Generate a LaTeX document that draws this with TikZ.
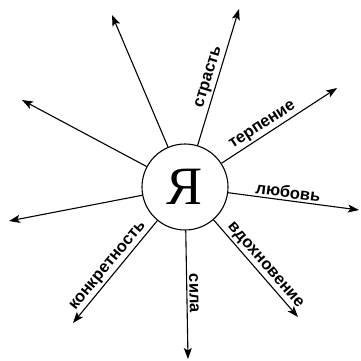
\documentclass[tikz,border=0pt]{standalone}
\usepackage{fontspec}
\setmainfont{Liberation Sans}
\newfontfamily\yafont{Liberation Serif}
\usetikzlibrary{arrows.meta}

\begin{document}
\begin{tikzpicture}[x=1pt, y=1pt,
    ray/.style={line width=1.1pt, -{Stealth[length=11pt, width=8pt, inset=2.5pt]}},
    lbl/.style={sloped, above, inner sep=2pt, font=\bfseries\fontsize{16.5}{16.5}\selectfont}]
  \useasboundingbox (0,0) rectangle (361,360);
  \node[circle, draw, line width=1.1pt, minimum size=86pt, inner sep=0pt,
        font=\yafont\fontsize{54}{54}\selectfont] (ya) at (185,173) {Я};
  % ray ends
  \coordinate (t1) at (112,345);
  \coordinate (t2) at (239,351);
  \coordinate (t3) at (337,272);
  \coordinate (t4) at (359,150);
  \coordinate (t5) at (298,43);
  \coordinate (t6) at (188,1);
  \coordinate (t7) at (73,37);
  \coordinate (t8) at (9,139);
  \coordinate (t9) at (22,260);
  \draw[ray] (ya) -- (t1);
  \draw[ray] (ya) -- (t2) node[lbl, pos=0.48] {страсть};
  \draw[ray] (ya) -- (t3) node[lbl, pos=0.40] {терпение};
  \draw[ray] (ya) -- (t4) node[lbl, pos=0.45] {любовь};
  \draw[ray] (ya) -- (t5) node[lbl, pos=0.53] {вдохновение};
  \draw[ray] (ya) -- (t6) node[lbl, pos=0.49] {сила};
  \draw[ray] (ya) -- (t7) node[lbl, pos=0.50] {конкретность};
  \draw[ray] (ya) -- (t8);
  \draw[ray] (ya) -- (t9);
\end{tikzpicture}
\end{document}
